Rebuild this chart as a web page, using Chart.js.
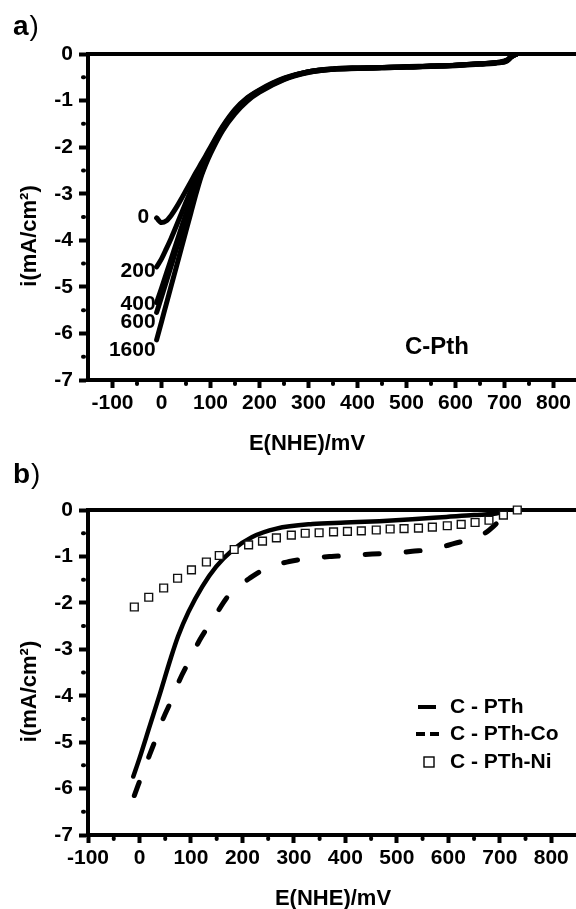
<!DOCTYPE html>
<html>
<head>
<meta charset="utf-8">
<script src="https://cdn.jsdelivr.net/npm/chart.js@4"></script>
<style>
html, body { margin: 0; padding: 0; background: #fff; overflow: hidden; width: 576px; height: 909px; }
canvas { position: absolute; left: 0; }
#chartA { top: 0; }
#chartB { top: 455px; }
</style>
</head>
<body>
<canvas id="chartA" width="600" height="460"></canvas>
<canvas id="chartB" width="600" height="454"></canvas>
<script>
// ---- panel a : C-Pth at different rotation rates ----
const potA = [-10, 0, 10, 20, 30, 40, 50, 60, 70, 80, 90, 100, 125, 150, 175, 200, 250, 300, 350, 400, 450, 500, 550, 600, 650, 690, 705, 715, 725];
const rpm0    = [-3.52, -3.62, -3.58, -3.46, -3.30, -3.12, -2.93, -2.74, -2.55, -2.37, -2.19, -2.00, -1.55, -1.19, -0.94, -0.77, -0.52, -0.38, -0.32, -0.30, -0.29, -0.27, -0.26, -0.24, -0.21, -0.17, -0.13, -0.04, 0];
const rpm200  = [-4.57, -4.40, -4.18, -3.95, -3.70, -3.44, -3.18, -2.93, -2.69, -2.47, -2.26, -2.04, -1.57, -1.21, -0.95, -0.78, -0.53, -0.38, -0.32, -0.30, -0.29, -0.28, -0.26, -0.24, -0.21, -0.18, -0.14, -0.05, 0];
const rpm400  = [-5.34, -5.03, -4.71, -4.39, -4.07, -3.75, -3.43, -3.13, -2.85, -2.58, -2.32, -2.08, -1.59, -1.23, -0.97, -0.79, -0.53, -0.38, -0.32, -0.30, -0.29, -0.28, -0.26, -0.24, -0.21, -0.18, -0.14, -0.05, 0];
const rpm600  = [-5.55, -5.22, -4.88, -4.54, -4.20, -3.87, -3.54, -3.22, -2.92, -2.62, -2.34, -2.10, -1.60, -1.24, -0.98, -0.80, -0.54, -0.39, -0.33, -0.31, -0.29, -0.28, -0.26, -0.24, -0.21, -0.18, -0.14, -0.05, 0];
const rpm1600 = [-6.14, -5.75, -5.36, -4.97, -4.58, -4.19, -3.80, -3.41, -3.02, -2.66, -2.38, -2.14, -1.64, -1.28, -1.01, -0.82, -0.55, -0.40, -0.33, -0.31, -0.30, -0.28, -0.27, -0.25, -0.22, -0.19, -0.15, -0.06, 0];
const rpmNames = ['0', '200', '400', '600', '1600'];
const rpmLabelE = [-25, -12, -12, -12, -12];
const rpmLabelI = [-3.50, -4.66, -5.37, -5.75, -6.35];

// ---- panel b : C-PTh, C-PTh-Co, C-PTh-Ni ----
const pthE = [-12, 0, 20, 40, 60, 75, 95, 122, 149, 181, 219, 266, 336, 400, 466, 530, 596, 650, 699, 712];
const pthI = [-5.74, -5.35, -4.65, -3.95, -3.22, -2.72, -2.20, -1.65, -1.22, -0.86, -0.58, -0.40, -0.30, -0.27, -0.24, -0.20, -0.15, -0.11, -0.06, 0];
const coE = [-10, 10, 31, 45, 64, 78, 101, 117, 146, 169, 190, 214, 247, 291, 330, 373, 408, 452, 500, 530, 571, 612, 651, 675, 693, 705, 715];
const coI = [-6.15, -5.55, -4.95, -4.52, -4.05, -3.66, -3.16, -2.80, -2.30, -1.90, -1.67, -1.47, -1.25, -1.11, -1.04, -1.00, -0.98, -0.95, -0.92, -0.89, -0.84, -0.72, -0.60, -0.47, -0.30, -0.19, 0];
const niE = [-10, 18, 47, 74, 101, 130, 155, 184, 212, 239, 266, 295, 322, 349, 377, 404, 431, 460, 487, 514, 542, 569, 598, 625, 652, 679, 707, 734];
const niI = [-2.09, -1.88, -1.68, -1.47, -1.29, -1.12, -0.98, -0.85, -0.75, -0.67, -0.60, -0.54, -0.50, -0.49, -0.47, -0.46, -0.45, -0.43, -0.41, -0.40, -0.39, -0.37, -0.34, -0.31, -0.27, -0.22, -0.11, 0];
const legendNames = ['C - PTh', 'C - PTh-Co', 'C - PTh-Ni'];

// ---- axes ----
const xTicks = [-100, 0, 100, 200, 300, 400, 500, 600, 700, 800];
const yTicks = [0, -1, -2, -3, -4, -5, -6, -7];
const xMinorA = [-50, 50, 150, 250, 350, 450, 550, 650, 750];
const xMinorB = [-50, 50, 150, 250, 350, 450, 550, 650, 750];
const yMinor = [-0.5, -1.5, -2.5, -3.5, -4.5, -5.5, -6.5];

const fam = '"Liberation Sans", Arial, Helvetica, sans-serif';
Chart.defaults.font.family = fam;
Chart.defaults.color = '#000';

function pts(xs, ys) {
    return xs.map((v, i) => ({ x: v, y: ys[i] }));
}

function makeOptions(xmin, xmax, pad) {
    return {
        responsive: false,
        animation: false,
        layout: { padding: pad },
        plugins: { legend: { display: false }, tooltip: { enabled: false } },
        elements: { point: { radius: 0 } },
        scales: {
            x: {
                type: 'linear', min: xmin, max: xmax,
                afterBuildTicks: s => { s.ticks = xTicks.map(v => ({ value: v })); },
                afterFit: s => { s.height = 50; },
                ticks: { font: { size: 21, weight: 'bold' }, padding: 3, maxRotation: 0, autoSkip: false },
                grid: { drawOnChartArea: false, tickLength: 8, tickWidth: 4, tickColor: '#000' },
                border: { display: true, width: 4, color: '#000' }
            },
            y: {
                type: 'linear', min: -7, max: 0,
                afterBuildTicks: s => { s.ticks = yTicks.map(v => ({ value: v })); },
                afterFit: s => { s.width = 88; },
                ticks: { font: { size: 21, weight: 'bold' }, padding: 6 },
                grid: { drawOnChartArea: false, tickLength: 9, tickWidth: 4, tickColor: '#000' },
                border: { display: true, width: 4, color: '#000' }
            }
        }
    };
}

function framePlugin(xMinors) {
    return {
        id: 'frame',
        beforeDatasetsDraw(chart) {
            const ctx = chart.ctx, a = chart.chartArea;
            const sx = chart.scales.x, sy = chart.scales.y;
            ctx.save();
            ctx.strokeStyle = '#000';
            ctx.lineWidth = 4;
            ctx.beginPath();
            ctx.moveTo(a.left - 2, a.top);
            ctx.lineTo(chart.width, a.top);
            ctx.stroke();
            ctx.lineCap = 'round';
            xMinors.forEach(v => {
                const px = sx.getPixelForValue(v);
                ctx.beginPath();
                ctx.moveTo(px, a.bottom + 3);
                ctx.lineTo(px, a.bottom + 4);
                ctx.stroke();
            });
            yMinor.forEach(v => {
                const py = sy.getPixelForValue(v);
                ctx.beginPath();
                ctx.moveTo(a.left - 4, py);
                ctx.lineTo(a.left - 5, py);
                ctx.stroke();
            });
            ctx.restore();
        }
    };
}

function drawTitles(chart, letter, letterBase, xTitleX) {
    const ctx = chart.ctx, a = chart.chartArea;
    ctx.save();
    ctx.fillStyle = '#000';
    ctx.textAlign = 'left';
    ctx.textBaseline = 'alphabetic';
    ctx.font = 'bold 28px ' + fam;
    ctx.fillText(letter, 13, letterBase);
    const w = ctx.measureText(letter).width;
    ctx.font = '28px ' + fam;
    ctx.fillText(')', 13 + w + 1, letterBase);

    ctx.font = 'bold 22px ' + fam;
    ctx.textAlign = 'center';
    ctx.fillText('E(NHE)/mV', xTitleX, 450);

    ctx.translate(30, (a.top + a.bottom) / 2 + 19);
    ctx.rotate(-Math.PI / 2);
    ctx.textBaseline = 'middle';
    ctx.fillText('i(mA/cm\u00B2)', 0, 0);
    ctx.restore();
}

const lineStyle = { borderColor: '#000', backgroundColor: '#000', borderWidth: 5, cubicInterpolationMode: 'monotone', borderCapStyle: 'round', borderJoinStyle: 'round', fill: false };

// ---- chart a ----
new Chart(document.getElementById('chartA'), {
    type: 'line',
    data: {
        datasets: [rpm0, rpm200, rpm400, rpm600, rpm1600].map((c, i) =>
            Object.assign({ label: rpmNames[i] + ' rpm', data: pts(potA, c) }, lineStyle))
    },
    options: makeOptions(-150, 850, { top: 54, left: 0, right: 22, bottom: 30 }),
    plugins: [framePlugin(xMinorA), {
        id: 'labelsA',
        afterDraw(chart) {
            const ctx = chart.ctx, sx = chart.scales.x, sy = chart.scales.y;
            drawTitles(chart, 'a', 35, 307);
            ctx.save();
            ctx.fillStyle = '#000';
            ctx.font = 'bold 21px ' + fam;
            ctx.textAlign = 'right';
            ctx.textBaseline = 'middle';
            rpmNames.forEach((n, i) => {
                ctx.fillText(n, sx.getPixelForValue(rpmLabelE[i]), sy.getPixelForValue(rpmLabelI[i]));
            });
            ctx.font = 'bold 24px ' + fam;
            ctx.textAlign = 'center';
            ctx.textBaseline = 'alphabetic';
            ctx.fillText('C-Pth', 437, 354);
            ctx.restore();
        }
    }]
});

// ---- chart b ----
new Chart(document.getElementById('chartB'), {
    type: 'line',
    data: {
        datasets: [
            { label: legendNames[2], data: pts(niE, niI), showLine: false, order: 0, clip: false,
              pointStyle: 'rect', pointRadius: 5.5, pointBorderWidth: 1.4, pointBorderColor: '#111', pointBackgroundColor: '#fff' },
            Object.assign({ label: legendNames[0], data: pts(pthE, pthI), order: 1 }, lineStyle, { borderWidth: 4.5 }),
            Object.assign({ label: legendNames[1], data: pts(coE, coI), order: 1, borderDash: [14, 27] }, lineStyle)
        ]
    },
    options: makeOptions(-100, 850, { top: 55, left: 0, right: 23, bottom: 24 }),
    plugins: [framePlugin(xMinorB), {
        id: 'labelsB',
        afterDraw(chart) {
            const ctx = chart.ctx;
            drawTitles(chart, 'b', 28, 333);
            ctx.save();
            ctx.fillStyle = '#000';
            ctx.strokeStyle = '#000';
            ctx.font = 'bold 21px ' + fam;
            ctx.textAlign = 'left';
            ctx.textBaseline = 'middle';
            const rows = [252, 279, 307];
            legendNames.forEach((n, i) => ctx.fillText(n, 450, rows[i]));
            ctx.lineWidth = 4;
            ctx.beginPath();
            ctx.moveTo(418, rows[0]); ctx.lineTo(436, rows[0]);
            ctx.stroke();
            ctx.setLineDash([9, 5]);
            ctx.beginPath();
            ctx.moveTo(416, rows[1]); ctx.lineTo(440, rows[1]);
            ctx.stroke();
            ctx.setLineDash([]);
            ctx.lineWidth = 1.4;
            ctx.fillStyle = '#fff';
            ctx.fillRect(424, rows[2] - 5, 10, 10);
            ctx.strokeRect(424, rows[2] - 5, 10, 10);
            ctx.restore();
        }
    }]
});
</script>
</body>
</html>
